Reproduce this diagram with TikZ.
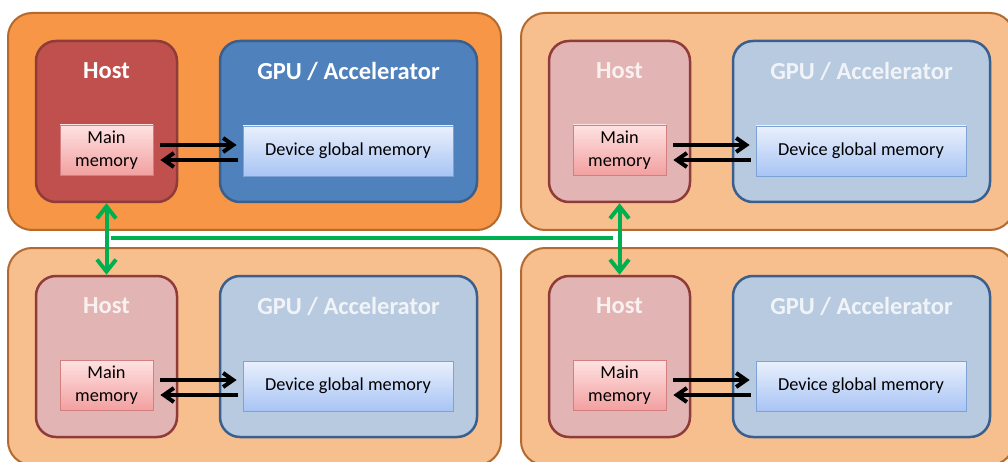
\documentclass[tikz,border=0pt]{standalone}
\usepackage{fontspec}
\setmainfont{Carlito}
\usetikzlibrary{arrows.meta,calc}
\definecolor{outerdraw}{HTML}{B4692E}
\definecolor{outerfull}{HTML}{F79646}
\definecolor{outerfaded}{HTML}{F8BF8E}
\definecolor{hostdraw}{HTML}{8E3B3A}
\definecolor{hostfull}{HTML}{C0504D}
\definecolor{hostfaded}{HTML}{E2B4B4}
\definecolor{gpudraw}{HTML}{3A5F8C}
\definecolor{gpufull}{HTML}{4F81BD}
\definecolor{gpufaded}{HTML}{B8CADF}
\definecolor{mmtop}{HTML}{FFE2E2}
\definecolor{mmbot}{HTML}{F2A0A0}
\definecolor{mmdraw}{HTML}{D47F7F}
\definecolor{dvtop}{HTML}{EAF0FD}
\definecolor{dvbot}{HTML}{A8C4F4}
\definecolor{dvdraw}{HTML}{7DA2D6}
\definecolor{grn}{HTML}{00B050}
\tikzset{
  x=1pt, y=-1pt,
  outerbox/.style={draw=outerdraw, line width=2pt, rounded corners=24pt,
    minimum width=493pt, minimum height=217pt, inner sep=0pt},
  hostbox/.style={draw=hostdraw, line width=2.5pt, rounded corners=20pt,
    minimum width=141pt, minimum height=161pt, inner sep=0pt},
  gpubox/.style={draw=gpudraw, line width=2.5pt, rounded corners=20pt,
    minimum width=257pt, minimum height=161pt, inner sep=0pt},
  titlefull/.style={text=white, font=\fontsize{24.5}{28}\selectfont\bfseries},
  titlefaded/.style={text=white, text opacity=0.8, font=\fontsize{24.5}{28}\selectfont\bfseries},
  mainmem/.style={draw=mmdraw, line width=0.8pt, top color=mmtop, bottom color=mmbot,
    minimum width=93pt, minimum height=50pt, inner sep=0pt, align=center,
    font=\fontsize{18.3}{23}\selectfont},
  devmem/.style={draw=dvdraw, line width=0.8pt, top color=dvtop, bottom color=dvbot,
    minimum width=210pt, minimum height=50pt, inner sep=0pt,
    font=\fontsize{18.3}{23}\selectfont},
  blkarrow/.style={draw=black, line width=4pt,
    -{Straight Barb[length=10pt,width=14pt,line width=4pt]}},
  grnarrow/.style={draw=grn, line width=4pt,
    {Straight Barb[length=12pt,width=19pt,line width=4pt]}-{Straight Barb[length=12pt,width=19pt,line width=4pt]}},
  grnline/.style={draw=grn, line width=4pt}
}
\newcommand\mkpanel[4]{%
  \begin{scope}[shift={(#2,#3)}]
    \node[outerbox,fill=outer#4] (#1o) at (254.5,121.5) {};
    \node[hostbox,fill=host#4] (#1h) at (106.5,121.5) {};
    \node[gpubox,fill=gpu#4] (#1g) at (348.5,121.5) {};
    \node[title#4] (#1ht) at (106.5,71) {Host};
    \node[title#4] (#1gt) at (348.5,71) {GPU / Accelerator};
    \node[mainmem] (#1m) at (106.5,150) {Main\\memory};
    \node[devmem] (#1d) at (348,151) {Device global memory};
    \draw[blkarrow] ([shift={(7,-5)}]#1m.east) -- ([shift={(-6,-6)}]#1d.west);
    \draw[blkarrow] ([shift={(-5,9)}]#1d.west) -- ([shift={(7,10)}]#1m.east);
  \end{scope}}
\begin{document}
\begin{tikzpicture}
  \clip (0,0) rectangle (1008,462);
  \fill[white] (0,0) rectangle (1008,462);
  \mkpanel{tl}{0}{0}{full}
  \mkpanel{tr}{513}{0}{faded}
  \mkpanel{bl}{0}{235}{faded}
  \mkpanel{br}{513}{235}{faded}
  \coordinate (gA) at (111,238);
  \coordinate (gB) at (613,238);
  \draw[grnarrow] (tlh.south) -- (blh.north);
  \draw[grnarrow] (trh.south) -- (brh.north);
  \draw[grnline] (gA) -- (gB);
\end{tikzpicture}
\end{document}
